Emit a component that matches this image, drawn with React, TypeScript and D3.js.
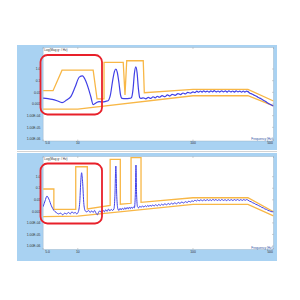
import * as d3 from 'd3'

type Pt = [number, number]

const X_TICKS = [5, 10, 100, 500]
const X_TICK_LABELS = ['5.0', '10', '100', '500']
const Y_TICKS = [1, 0.1, 0.01, 0.001, 1e-4, 1e-5, 1e-6]
const Y_TICK_LABELS = ['1.0', '0.1', '0.01', '0.001', '1.00E-04', '1.00E-05', '1.00E-06']

const topUpper: Pt[] = [
  [5, 0.0138], [6.1, 0.0138], [7.3, 0.8], [13.6, 0.8], [14.7, 0.0027], [16.9, 0.0027],
  [16.9, 3.75], [24.8, 3.75], [25.7, 0.006], [26.6, 5.1], [37, 5.1], [37.8, 0.0093],
  [100, 0.018], [300, 0.018], [500, 0.0018],
]
const topLower: Pt[] = [[5, 0.00037], [10, 0.00037], [100, 0.0051], [300, 0.0051], [500, 0.00068]]
const topSignal: Pt[] = [
  [5, 0.0032], [5.5, 0.0029], [6, 0.0025], [6.6, 0.0019], [7.3, 0.0013], [8, 0.0022], [8.7, 0.0043],
  [9.5, 0.03], [10.3, 0.2], [11, 0.26], [11.6, 0.12], [12.4, 0.02], [13, 0.004], [13.6, 0.0009],
  [14.5, 0.0013], [15.3, 0.0016], [16.5, 0.0015], [17.5, 0.0017], [18.3, 0.0019], [19.2, 0.006],
  [20, 0.08], [20.8, 0.6], [21.4, 1.0], [22, 0.55], [22.8, 0.06], [23.5, 0.006], [24.2, 0.003],
  [26, 0.0029], [28, 0.003], [29.2, 0.0035], [30.2, 0.02], [31, 0.4], [31.9, 1.5], [32.7, 0.5],
  [33.6, 0.02], [34.5, 0.0035], [35.3, 0.003], [37, 0.0034], [39, 0.0028], [41, 0.0037], [43, 0.003],
  [45, 0.0042], [47, 0.0034], [49, 0.0046], [51, 0.0038], [54, 0.0052], [57, 0.0042], [60, 0.006],
  [63, 0.0048], [66, 0.0068], [70, 0.0055], [74, 0.0078], [78, 0.0064], [82, 0.0088], [86, 0.0074],
  [90, 0.0098], [95, 0.0085], [100, 0.011], [104, 0.0095], [108, 0.0125], [112, 0.0102], [116, 0.013],
  [120, 0.0105], [124, 0.0135], [128, 0.0108], [133, 0.0128], [138, 0.0104], [143, 0.0132], [148, 0.011],
  [153, 0.0138], [159, 0.0108], [165, 0.013], [171, 0.0106], [177, 0.0135], [184, 0.011], [191, 0.0132],
  [198, 0.0104], [205, 0.0136], [213, 0.0108], [221, 0.013], [229, 0.0105], [237, 0.0134], [246, 0.011],
  [255, 0.0128], [264, 0.0104], [273, 0.013], [282, 0.0106], [291, 0.0125], [300, 0.0115], [312, 0.0085],
  [325, 0.0072], [338, 0.0058], [352, 0.0049], [366, 0.0038], [380, 0.0032], [396, 0.0025], [412, 0.002],
  [428, 0.0016], [445, 0.0012], [462, 0.001], [480, 0.00082], [500, 0.00068],
]

const bottomUpper: Pt[] = [
  [5, 0.086], [6.2, 0.086], [6.2, 0.0015], [9.6, 0.0015], [9.6, 7.3], [12.1, 7.3], [12.1, 0.0016],
  [19.1, 0.0033], [19.1, 32], [23.4, 32], [23.4, 0.0041], [29, 0.005], [29, 44], [35.4, 44],
  [35.4, 0.006], [100, 0.015], [300, 0.015], [500, 0.00093],
]
const bottomLower: Pt[] = [[5, 0.00035], [10, 0.00038], [100, 0.004], [300, 0.004], [500, 0.0004]]
const bottomSignal: Pt[] = [
  [5, 0.0025], [5.2, 0.008], [5.4, 0.021], [5.6, 0.012], [5.9, 0.003], [6.2, 0.0012], [6.5, 0.0008],
  [6.8, 0.0006], [7.1, 0.0007], [7.4, 0.0005], [7.7, 0.0007], [8, 0.0006], [8.3, 0.0008], [8.6, 0.0006],
  [8.9, 0.0009], [9.2, 0.0007], [9.5, 0.0008], [9.8, 0.0006], [10.1, 0.0009], [10.4, 0.006], [10.6, 0.3],
  [10.8, 2.2], [11, 0.4], [11.3, 0.004], [11.6, 0.0011], [12, 0.0009], [12.4, 0.0012], [12.8, 0.0008],
  [13.2, 0.0011], [13.6, 0.0008], [14, 0.0012], [14.4, 0.0007], [14.8, 0.0005], [15.2, 0.0009],
  [15.6, 0.0011], [16, 0.0008], [16.5, 0.0013], [17, 0.0009], [17.5, 0.0014], [18, 0.001], [18.5, 0.0016],
  [19, 0.0011], [19.5, 0.0015], [20, 0.0012], [20.6, 0.0016], [21, 0.02], [21.4, 8.4], [21.8, 0.02],
  [22.3, 0.0016], [22.8, 0.0012], [23.3, 0.0018], [23.8, 0.0013], [24.4, 0.0019], [25, 0.0014],
  [25.6, 0.0021], [26.2, 0.0015], [26.8, 0.0022], [27.4, 0.0016], [28, 0.0023], [28.6, 0.0017],
  [29.2, 0.0024], [29.8, 0.0018], [30.4, 0.0024], [31, 0.002], [31.6, 0.03], [32, 10.3], [32.4, 0.03],
  [33, 0.0025], [33.8, 0.002], [34.6, 0.0028], [35.5, 0.0022], [36.5, 0.003], [37.5, 0.0023],
  [38.5, 0.0031], [39.5, 0.0025], [40.5, 0.0033], [41.5, 0.0026], [42.5, 0.0035], [43.5, 0.0027],
  [44.5, 0.0036], [46, 0.0029], [47.5, 0.0038], [49, 0.003], [50.5, 0.004], [52, 0.0032], [53.5, 0.0042],
  [55, 0.0034], [57, 0.0045], [59, 0.0037], [61, 0.0048], [63, 0.0039], [65, 0.0051], [67, 0.0042],
  [69.5, 0.0055], [72, 0.0045], [74.5, 0.0059], [77, 0.0049], [80, 0.0064], [83, 0.0053], [86, 0.0069],
  [89, 0.0058], [92, 0.0076], [95, 0.0064], [98, 0.0082], [101, 0.0072], [104, 0.0095], [107, 0.0078],
  [110, 0.0098], [113, 0.008], [117, 0.01], [121, 0.0083], [125, 0.0102], [129, 0.0085], [133, 0.0104],
  [137, 0.0086], [141, 0.0102], [145, 0.0084], [149, 0.0112], [153, 0.0088], [158, 0.0106], [163, 0.0087],
  [168, 0.0104], [173, 0.0086], [178, 0.0108], [184, 0.0088], [190, 0.0103], [196, 0.0085], [202, 0.0106],
  [208, 0.0087], [215, 0.0104], [222, 0.0086], [229, 0.0105], [236, 0.0088], [244, 0.0106], [252, 0.0087],
  [260, 0.0104], [268, 0.0088], [276, 0.0106], [284, 0.009], [292, 0.0104], [300, 0.0095], [310, 0.0075],
  [320, 0.0068], [330, 0.0055], [340, 0.005], [350, 0.0041], [361, 0.0037], [372, 0.0031], [384, 0.0027],
  [396, 0.0022], [408, 0.002], [421, 0.0016], [434, 0.0015], [448, 0.0012], [462, 0.0011], [476, 0.00095],
  [490, 0.00092], [500, 0.0009],
]

const PANEL_BLUE = '#a9d2f2'
const ORANGE = '#f8b746'
const SIGNAL = '#3f3fe6'
const FONT = 'Liberation Sans, Arial, sans-serif'

const x = d3.scaleLog().domain([5, 500]).range([43.1, 273.5])

type PanelProps = {
  top: number
  bottom: number
  plotTop: number
  plotBottom: number
  yOne: number
  yMicro: number
  upper: Pt[]
  lower: Pt[]
  signal: Pt[]
  signalWidth: number
  highlight: [number, number]
  id: string
}

function Panel(p: PanelProps) {
  const y = d3.scaleLog().domain([1e-6, 1]).range([p.yMicro, p.yOne])
  const [x0, x1] = x.range()
  const band = d3.line<Pt>().x((d) => x(d[0])).y((d) => y(d[1]))
  const smooth = d3
    .line<Pt>()
    .x((d) => x(d[0]))
    .y((d) => y(d[1]))
    .curve(d3.curveMonotoneX)

  return (
    <g>
      <rect x={17} y={p.top} width={260} height={p.bottom - p.top} fill={PANEL_BLUE} />
      <rect
        x={x0}
        y={p.plotTop}
        width={x1 - x0}
        height={p.plotBottom - p.plotTop}
        fill="#fff"
        stroke="#8fa9bf"
        strokeWidth={0.4}
      />
      <clipPath id={p.id}>
        <rect x={x0} y={p.plotTop} width={x1 - x0} height={p.plotBottom - p.plotTop} />
      </clipPath>
      {Y_TICKS.map((t, i) => (
        <g key={t}>
          <line x1={x1 - 1.5} x2={x1} y1={y(t)} y2={y(t)} stroke="#8a8a8a" strokeWidth={0.4} />
          <text x={40.5} y={y(t)} dy="0.35em" textAnchor="end" fontSize={3.4} fill="#333" fontFamily={FONT}>
            {Y_TICK_LABELS[i]}
          </text>
        </g>
      ))}
      {X_TICKS.map((t, i) => (
        <g key={t}>
          <line x1={x(t)} x2={x(t)} y1={p.plotTop} y2={p.plotTop + 1.5} stroke="#8a8a8a" strokeWidth={0.4} />
          <line x1={x(t)} x2={x(t)} y1={p.plotBottom} y2={p.plotBottom - 1.5} stroke="#8a8a8a" strokeWidth={0.4} />
          <text
            x={i === 0 ? x(t) + 4.4 : i === X_TICKS.length - 1 ? x(t) - 3.5 : x(t)}
            y={p.plotBottom + 3.4}
            textAnchor="middle"
            fontSize={3.4}
            fill="#333"
            fontFamily={FONT}
          >
            {X_TICK_LABELS[i]}
          </text>
        </g>
      ))}
      <text x={x0 + 1.2} y={p.plotTop + 3.6} fontSize={3.1} fill="#333" fontFamily={FONT}>
        Log(Mag g² / Hz)
      </text>
      <text x={x1 - 0.8} y={p.plotBottom - 1} textAnchor="end" fontSize={3.1} fill="#2a4f9e" fontFamily={FONT}>
        Frequency (Hz)
      </text>
      <g clipPath={`url(#${p.id})`}>
        <path d={band(p.upper) ?? ''} fill="none" stroke={ORANGE} strokeWidth={1.3} />
        <path d={band(p.lower) ?? ''} fill="none" stroke={ORANGE} strokeWidth={1.3} />
        <path d={smooth(p.signal) ?? ''} fill="none" stroke={SIGNAL} strokeWidth={p.signalWidth} />
      </g>
      <rect
        x={40.5}
        y={p.highlight[0]}
        width={61.5}
        height={p.highlight[1] - p.highlight[0]}
        rx={7}
        fill="none"
        stroke="#e8202a"
        strokeWidth={1.8}
      />
    </g>
  )
}

export default function App() {
  return (
    <div style={{ position: 'fixed', left: 0, top: 0 }}>
      <svg width={300} height={300} style={{ display: 'block', background: '#fff' }}>
        <Panel
          id="clip-top"
          top={45}
          bottom={150}
          plotTop={47.5}
          plotBottom={141}
          yOne={69}
          yMicro={139}
          upper={topUpper}
          lower={topLower}
          signal={topSignal}
          signalWidth={1.2}
          highlight={[55, 114.5]}
        />
        <line x1={17} x2={277} y1={151.5} y2={151.5} stroke="#c8c8c8" strokeWidth={0.8} />
        <Panel
          id="clip-bottom"
          top={153}
          bottom={261}
          plotTop={156.5}
          plotBottom={249.5}
          yOne={176.7}
          yMicro={246}
          upper={bottomUpper}
          lower={bottomLower}
          signal={bottomSignal}
          signalWidth={1}
          highlight={[163.5, 223.5]}
        />
      </svg>
    </div>
  )
}
